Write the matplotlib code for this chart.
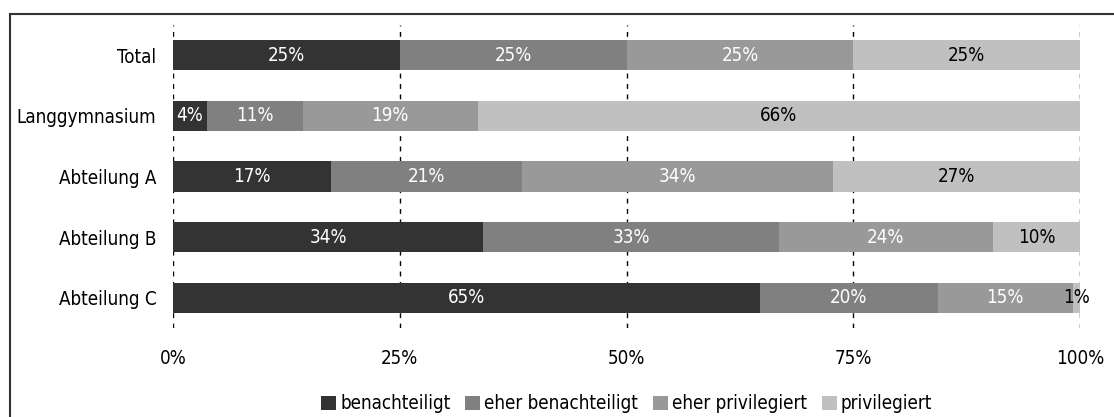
import matplotlib
matplotlib.use("Agg")
import numpy as np
import matplotlib.pyplot as plt
from matplotlib.patches import Rectangle

plt.rcParams['font.family'] = ['DejaVu Sans']
plt.rcParams['font.stretch'] = 'condensed'

groups = ['Total', 'Langgymnasium', 'Abteilung A', 'Abteilung B', 'Abteilung C']
series = ['benachteiligt', 'eher benachteiligt', 'eher privilegiert', 'privilegiert']

benachteiligt = [25.0, 3.7, 17.4, 34.2, 64.7]
eher_benachteiligt = [25.0, 10.6, 21.1, 32.6, 19.6]
eher_privilegiert = [25.0, 19.3, 34.3, 23.6, 14.9]
privilegiert = [25.0, 66.4, 27.2, 9.6, 0.8]

colors = ['#333333', '#808080', '#999999', '#c0c0c0']
text_colors = ['white', 'white', 'white', 'black']
fs = 13.5

fig = plt.figure(figsize=(11.14, 4.17), dpi=100)
ax = fig.add_axes([0.1553, 0.213, 0.8142, 0.727])

y = np.arange(len(groups))
left = np.zeros(len(groups))
for vals, name, c, tc in zip([benachteiligt, eher_benachteiligt, eher_privilegiert, privilegiert],
                             series, colors, text_colors):
    vals = np.array(vals)
    ax.barh(y, vals, left=left, height=0.5, color=c, label=name, zorder=2)
    for yi, l, v in zip(y, left, vals):
        ax.text(l + v / 2, yi, '{:.0f}%'.format(v), ha='center', va='center',
                color=tc, fontsize=fs, zorder=3)
    left += vals

ax.set_xlim(0, 100)
ax.set_ylim(len(groups) - 0.5, -0.5)
ax.set_yticks(y)
ax.set_yticklabels(groups, fontsize=fs)
ax.set_xticks([0, 25, 50, 75, 100])
ax.set_xticklabels(['0%', '25%', '50%', '75%', '100%'], fontsize=fs)
ax.tick_params(length=0)
ax.tick_params(axis='y', pad=12)
ax.tick_params(axis='x', pad=15)
for s in ax.spines.values():
    s.set_visible(False)
for xv in [0, 25, 50, 75, 100]:
    ax.axvline(xv, color='black', lw=1, ls=(0, (3.5, 4)), zorder=1)

ax.legend(loc='center', bbox_to_anchor=(0.5, -0.25), ncol=4, frameon=False,
          fontsize=fs, handlelength=0.8, handleheight=0.8, handletextpad=0.2,
          columnspacing=0.8, borderpad=0)

# frame around the whole graphic
fig.add_artist(Rectangle((10 / 1114, -0.1), 1.2, 1.1 - 14 / 417, transform=fig.transFigure,
                         fill=False, edgecolor='#333333', lw=1.5, clip_on=False))

fig.savefig('out.png', dpi=100)
